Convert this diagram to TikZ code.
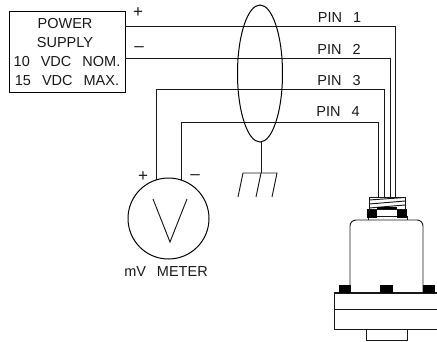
\documentclass[tikz,border=0pt]{standalone}
\usepackage{fontspec}
\setmainfont{Liberation Sans}
\usetikzlibrary{shapes.geometric}
\newcommand{\gp}{\hspace{11pt}}
\tikzset{
  x=1pt,y=-1pt,
  wire/.style={line width=0.95pt,black!90},
  lbl/.style={inner sep=0pt,font=\fontsize{14.5}{16}\selectfont,black!90},
  sgn/.style={inner sep=0pt,font=\fontsize{17}{18}\selectfont,black!90},
  blk/.style={fill=black,draw=none},
  part/.style={line width=0.95pt,black!90}
}
\begin{document}
\begin{tikzpicture}
\useasboundingbox (0,0) rectangle (437,341);
\node[draw,line width=1pt,minimum width=116pt,minimum height=81pt,anchor=north west,inner sep=0pt] (psu) at (9,11) {};
\node[lbl] (t1) at (65,24) {POWER};
\node[lbl] (t2) at (65,43) {SUPPLY};
\node[lbl] (t3) at (67,62) {10\gp VDC\gp NOM.};
\node[lbl] (t4) at (67,81) {15\gp VDC\gp MAX.};
\node[sgn] (plus1) at (138,13) {+};
\node[sgn] (minus1) at (139,49) {–};
\coordinate (p1a) at (125,26); \coordinate (p1b) at (395,26); \coordinate (p1c) at (395,197);
\coordinate (p2a) at (125,58); \coordinate (p2b) at (390,58); \coordinate (p2c) at (390,197);
\coordinate (p3a) at (156,180); \coordinate (p3m) at (156,89); \coordinate (p3b) at (384,89); \coordinate (p3c) at (384,197);
\coordinate (p4a) at (181,180); \coordinate (p4m) at (181,122); \coordinate (p4b) at (378,122); \coordinate (p4c) at (378,197);
\draw[wire] (p1a)--(p1b)--(p1c);
\draw[wire] (p2a)--(p2b)--(p2c);
\draw[wire] (p3a)--(p3m)--(p3b)--(p3c);
\draw[wire] (p4a)--(p4m)--(p4b)--(p4c);
\node[lbl] (pin1) at (339.5,17.5) {PIN\gp 1};
\node[lbl] (pin2) at (339,49) {PIN\gp 2};
\node[lbl] (pin3) at (339,81) {PIN\gp 3};
\node[lbl] (pin4) at (338,112) {PIN\gp 4};
\node[draw,ellipse,line width=1pt,minimum width=45pt,minimum height=137pt,inner sep=0pt] (shield) at (260,73.5) {};
\coordinate (g0) at (261,173);
\coordinate (gl) at (243,173);
\coordinate (gr) at (277,173);
\draw[wire] (261,142)--(g0);
\draw[wire] (238,197)--(gl)--(gr)--(272,197);
\draw[wire] (g0)--(256,197);
\node[draw,circle,line width=1pt,minimum size=81pt,inner sep=0pt] (meter) at (168.5,218.5) {};
\draw[wire] (153,199)--(170,242)--(187,199);
\node[sgn] (plus2) at (143,177) {+};
\node[sgn] (minus2) at (195,177) {–};
\node[lbl] (mv) at (166,271.5) {mV\gp METER};
% sensor
\draw[part] (366,329) rectangle (407,340);
\draw[part] (438,293)--(334,293)--(334,329)--(438,329);
\draw[part] (334,309)--(438,309);
\draw[line width=1.5pt,black!90] (334,293)--(438,293);
\draw[part,rounded corners=6pt] (350,293)--(350,220)--(423,220)--(423,293);
\fill[blk] (339,285) rectangle (351,293);
\fill[blk] (380,285) rectangle (393,293);
\fill[blk] (423,285) rectangle (435,293);
\draw[part] (368,220)--(368,216)--(407,216)--(407,220);
\fill[blk] (367,209) rectangle (377,218);
\fill[blk] (397,209) rectangle (407,218);
\draw[part] (369,197) rectangle (405,209);
\draw[part] (369,200)--(405,197.5);
\draw[part] (369,204)--(405,201);
\draw[part] (369,208)--(405,205);
\fill[blk] (377,207) rectangle (397,209);
\end{tikzpicture}
\end{document}
